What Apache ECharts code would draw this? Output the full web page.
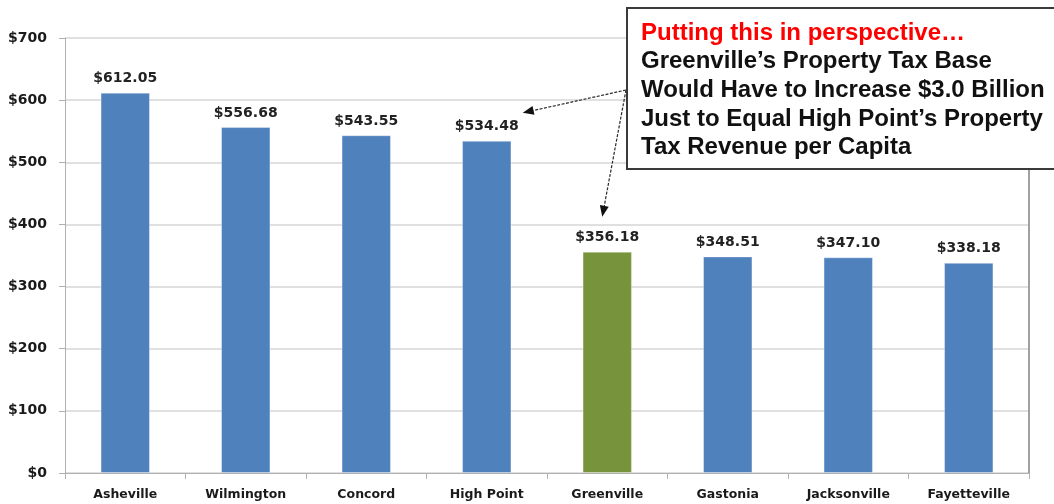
<!DOCTYPE html>
<html>
<head>
<meta charset="utf-8">
<script src="https://cdn.jsdelivr.net/npm/echarts@6/dist/echarts.min.js"></script>
<style>
  html, body { margin: 0; padding: 0; background: #fff; }
  #chart { width: 1054px; height: 504px; }
</style>
</head>
<body>
<div id="chart"></div>
<script>
// Property tax revenue per capita by city
const categories = ['Asheville', 'Wilmington', 'Concord', 'High Point', 'Greenville', 'Gastonia', 'Jacksonville', 'Fayetteville'];
const revenuePerCapita = [612.05, 556.68, 543.55, 534.48, 356.18, 348.51, 347.10, 338.18];
const highlightCity = 'Greenville';
const compareCity = 'High Point';

const calloutTitle = 'Putting this in perspective\u2026';
const calloutLines = [
  'Greenville\u2019s Property Tax Base',
  'Would Have to Increase $3.0 Billion',
  'Just to Equal High Point\u2019s Property',
  'Tax Revenue per Capita'
];

const BLUE = '#4F81BD';
const GREEN = '#77933C';
const labelFont = 'DejaVu Sans';

const chart = echarts.init(document.getElementById('chart'), null, { renderer: 'canvas' });

const option = {
  animation: false,
  backgroundColor: '#ffffff',
  grid: { left: 65, right: 25, top: 38, bottom: 31, containLabel: false },
  xAxis: {
    type: 'category',
    data: categories,
    axisLine: { show: true, lineStyle: { color: '#b0b0b0', width: 1 } },
    axisTick: { show: true, length: 6, alignWithLabel: false, lineStyle: { color: '#b0b0b0' } },
    axisLabel: {
      margin: 15,
      color: '#1a1a1a',
      fontFamily: labelFont,
      fontWeight: 'bold',
      fontSize: 12.5
    }
  },
  yAxis: [
    {
      type: 'value',
      min: 0,
      max: 700,
      interval: 100,
      axisLine: { show: true, lineStyle: { color: '#b0b0b0', width: 1 } },
      axisTick: { show: true, length: 6, lineStyle: { color: '#b0b0b0' } },
      splitLine: { show: true, lineStyle: { color: '#d6d6d6', width: 1.5 } },
      axisLabel: {
        margin: 18,
        color: '#1a1a1a',
        fontFamily: labelFont,
        fontWeight: 'bold',
        fontSize: 14,
        formatter: v => '$' + v
      }
    },
    {
      // right-hand frame of the plot area
      type: 'value',
      position: 'right',
      min: 0,
      max: 700,
      interval: 100,
      axisLine: { show: true, lineStyle: { color: '#a0a0a0', width: 2 } },
      axisTick: { show: false },
      axisLabel: { show: false },
      splitLine: { show: false }
    }
  ],
  series: [
    {
      type: 'bar',
      barWidth: '41%',
      data: revenuePerCapita.map((v, i) => ({
        value: v,
        itemStyle: { color: categories[i] === highlightCity ? GREEN : BLUE }
      })),
      itemStyle: { borderColor: 'rgba(255,255,255,0.35)', borderWidth: 1 },
      label: {
        show: true,
        position: 'top',
        distance: 7,
        color: '#222',
        fontFamily: labelFont,
        fontWeight: 'bold',
        fontSize: 14,
        formatter: p => '$' + p.value.toFixed(2)
      }
    }
  ]
};

chart.setOption(option);

// Callout box and its two pointer arrows
const box = { x: 627, y: 8, w: 460, h: 161 };
const arrowOrigin = [box.x - 1, 90];

const hpIdx = categories.indexOf(compareCity);
const gvIdx = categories.indexOf(highlightCity);
const hpTop = chart.convertToPixel({ gridIndex: 0 }, [hpIdx, revenuePerCapita[hpIdx]]);
const gvTop = chart.convertToPixel({ gridIndex: 0 }, [gvIdx, revenuePerCapita[gvIdx]]);
const tipHP = [hpTop[0] + 36, hpTop[1] - 28];
const tipGV = [gvTop[0] - 5, gvTop[1] - 35];

function arrow(from, to) {
  const dx = to[0] - from[0], dy = to[1] - from[1];
  const len = Math.sqrt(dx * dx + dy * dy);
  const ux = dx / len, uy = dy / len;
  const headLen = 11, headW = 4.5;
  const bx = to[0] - ux * headLen, by = to[1] - uy * headLen;
  return [
    {
      type: 'line',
      shape: { x1: from[0], y1: from[1], x2: bx, y2: by },
      style: { stroke: '#2a2a2a', lineWidth: 1.2, lineDash: [3, 1.5] },
      z: 10
    },
    {
      type: 'polygon',
      shape: { points: [to, [bx - uy * headW, by + ux * headW], [bx + uy * headW, by - ux * headW]] },
      style: { fill: '#111' },
      z: 10
    }
  ];
}

const titleFont = 'Liberation Sans';
const lineH = 28.7;

chart.setOption({
  graphic: [
    {
      type: 'rect',
      shape: { x: box.x, y: box.y, width: box.w, height: box.h },
      style: { fill: '#ffffff', stroke: '#3a3a3a', lineWidth: 2 },
      z: 20
    },
    {
      type: 'text',
      left: 641,
      top: 21,
      z: 21,
      style: {
        text: [calloutTitle].concat(calloutLines).map((t, i) => (i === 0 ? '{r|' + t + '}' : '{b|' + t + '}')).join('\n'),
        rich: {
          r: { fontFamily: titleFont, fontWeight: 'bold', fontSize: 24, lineHeight: lineH, fill: '#ff0000' },
          b: { fontFamily: titleFont, fontWeight: 'bold', fontSize: 24, lineHeight: lineH, fill: '#111111' }
        }
      }
    }
  ].concat(arrow(arrowOrigin, tipHP), arrow(arrowOrigin, tipGV))
});
</script>
</body>
</html>
